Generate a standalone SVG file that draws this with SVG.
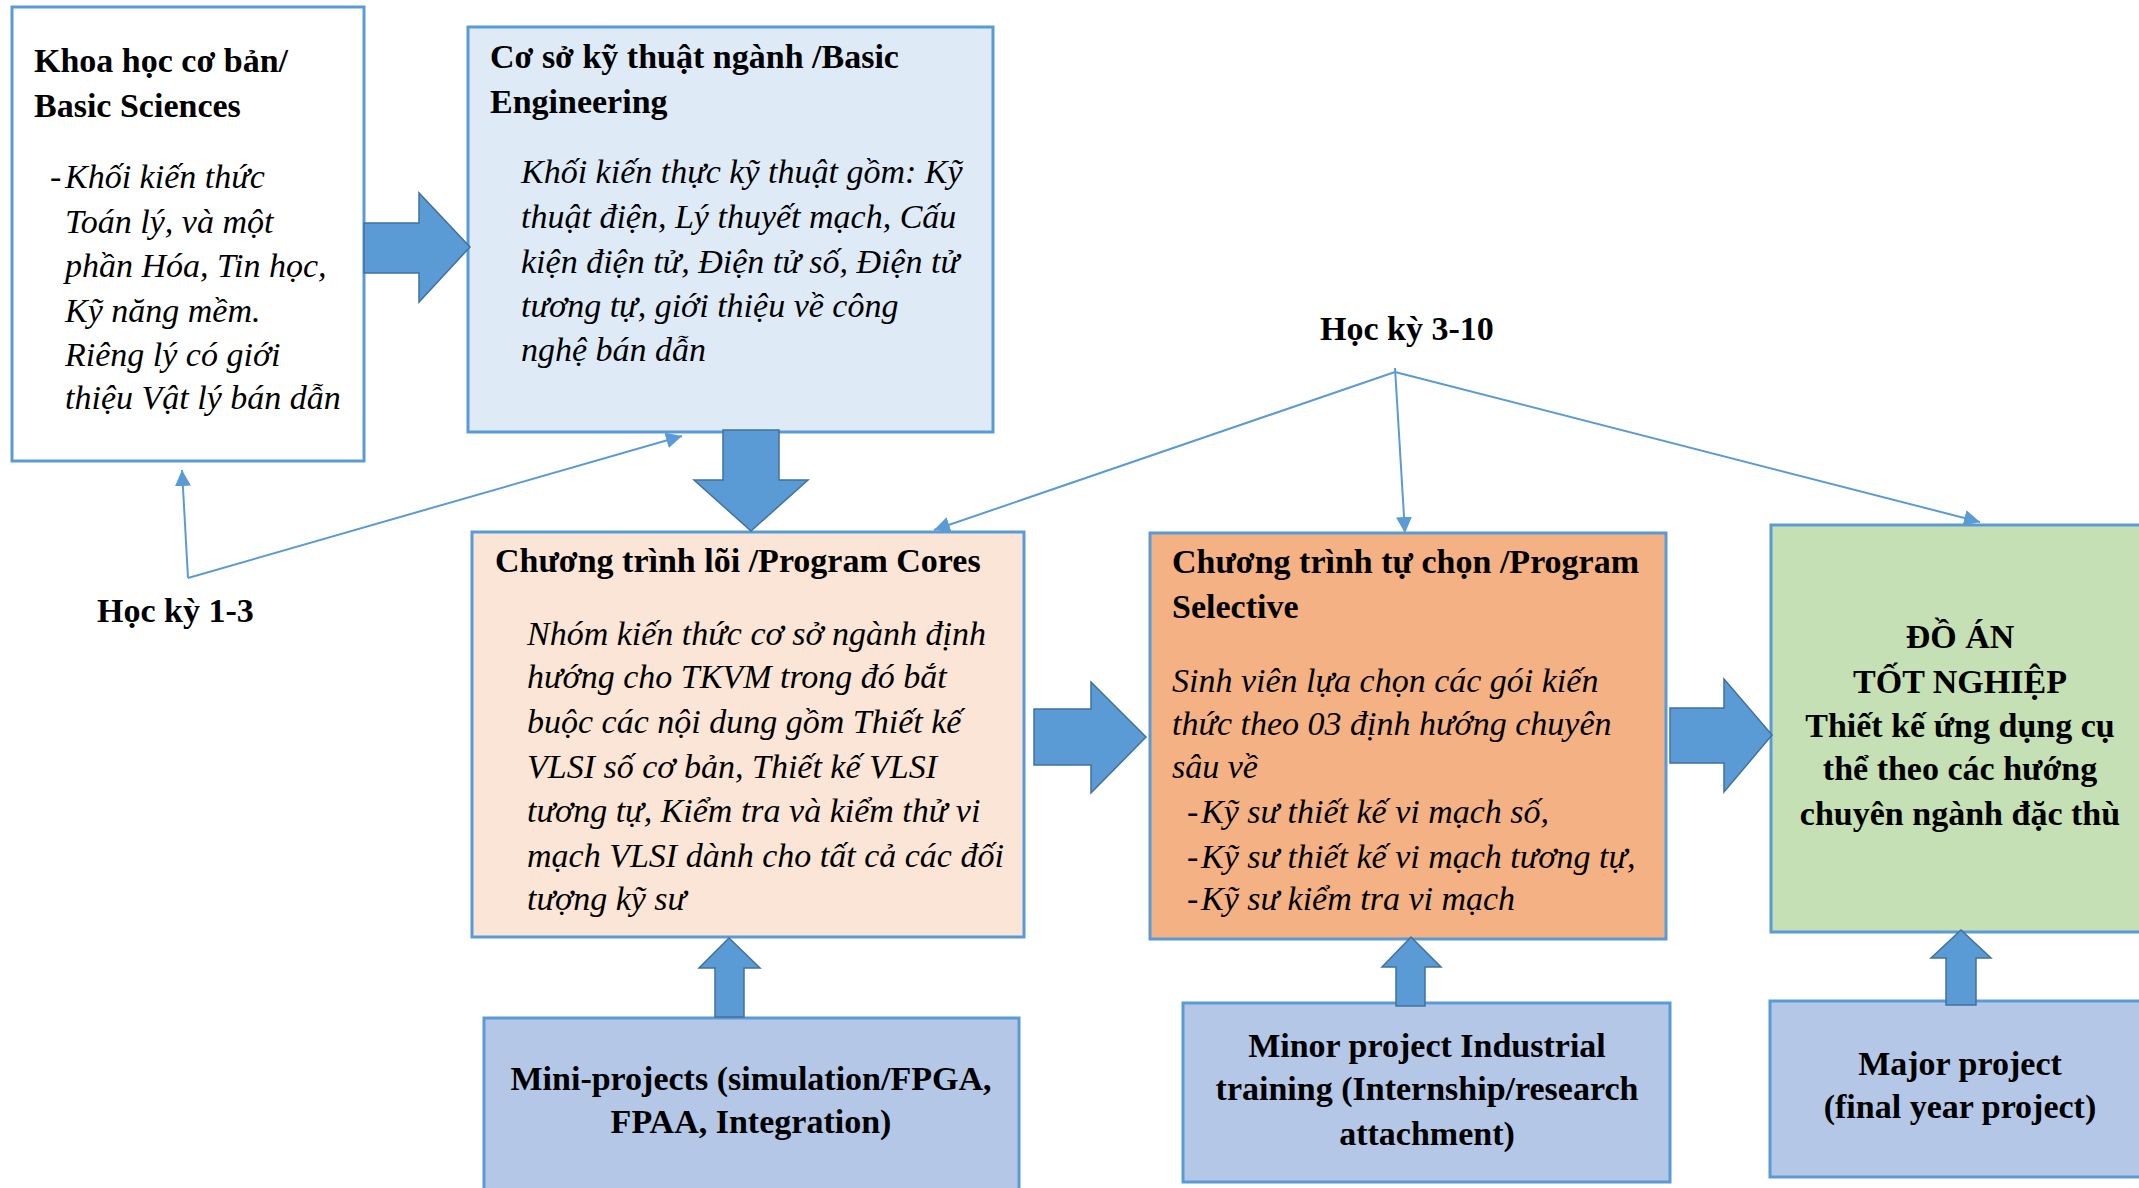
<svg xmlns="http://www.w3.org/2000/svg" width="2139" height="1188" viewBox="0 0 2139 1188">
  <style>
    .box { stroke: #5b9bd5; stroke-width: 3; }
    .b { font-family: "Liberation Serif", "Times New Roman", serif; font-weight: bold; font-size: 34px; fill: #000; }
    .i { font-family: "Liberation Serif", "Times New Roman", serif; font-style: italic; font-size: 34px; fill: #000; }
    .c { text-anchor: middle; }
    .blk { fill: #5b9bd5; stroke: #41719c; stroke-width: 1.5; stroke-linejoin: miter; }
    .thin { fill: none; stroke: #5b9bd5; stroke-width: 2; marker-end: url(#tri); }
  </style>
  <defs>
    <marker id="tri" markerUnits="userSpaceOnUse" markerWidth="18" markerHeight="18" refX="16" refY="8" orient="auto">
      <path d="M0,0 L16,8 L0,16 z" fill="#5b9bd5"/>
    </marker>
  </defs>
  <rect width="2139" height="1188" fill="#fff"/>

  <!-- semester markers and thin arrows -->
  <g id="connectors">
    <polyline class="thin" points="188,578 182,470"/>
    <polyline class="thin" points="188,578 682,436"/>
    <polyline class="thin" points="1395,372 934,530"/>
    <polyline class="thin" points="1395,368 1405,533"/>
    <polyline class="thin" points="1395,372 1980,522"/>
  </g>

  <g id="basic-sciences">
    <rect class="box" x="12" y="7" width="352" height="454" fill="#fff"/>
    <text class="b" x="34" y="72">Khoa học cơ bản/</text>
    <text class="b" x="34" y="117">Basic Sciences</text>
    <text class="i" x="50" y="188">-</text>
    <text class="i" x="65" y="188">Khối kiến thức</text>
    <text class="i" x="65" y="233">Toán lý, và một</text>
    <text class="i" x="65" y="277">phần Hóa, Tin học,</text>
    <text class="i" x="65" y="322">Kỹ năng mềm.</text>
    <text class="i" x="65" y="366">Riêng lý có giới</text>
    <text class="i" x="65" y="409">thiệu Vật lý bán dẫn</text>
  </g>

  <g id="basic-engineering">
    <rect class="box" x="468" y="27" width="525" height="405" fill="#deebf7"/>
    <text class="b" x="490" y="68">Cơ sở kỹ thuật ngành /Basic</text>
    <text class="b" x="490" y="113">Engineering</text>
    <text class="i" x="521" y="183">Khối kiến thực kỹ thuật gồm: Kỹ</text>
    <text class="i" x="521" y="228">thuật điện, Lý thuyết mạch, Cấu</text>
    <text class="i" x="521" y="273">kiện điện tử, Điện tử số, Điện tử</text>
    <text class="i" x="521" y="317">tương tự, giới thiệu về công</text>
    <text class="i" x="521" y="361">nghệ bán dẫn</text>
  </g>

  <g id="program-cores">
    <rect class="box" x="472" y="532" width="552" height="405" fill="#fbe5d6"/>
    <text class="b" x="495" y="572">Chương trình lõi /Program Cores</text>
    <text class="i" x="527" y="645">Nhóm kiến thức cơ sở ngành định</text>
    <text class="i" x="527" y="688">hướng cho TKVM trong đó bắt</text>
    <text class="i" x="527" y="733">buộc các nội dung gồm Thiết kế</text>
    <text class="i" x="527" y="778">VLSI số cơ bản, Thiết kế VLSI</text>
    <text class="i" x="527" y="822">tương tự, Kiểm tra và kiểm thử vi</text>
    <text class="i" x="527" y="867">mạch VLSI dành cho tất cả các đối</text>
    <text class="i" x="527" y="910">tượng kỹ sư</text>
  </g>

  <g id="program-selective">
    <rect class="box" x="1150" y="533" width="516" height="406" fill="#f4b183"/>
    <text class="b" x="1172" y="573">Chương trình tự chọn /Program</text>
    <text class="b" x="1172" y="618">Selective</text>
    <text class="i" x="1172" y="692">Sinh viên lựa chọn các gói kiến</text>
    <text class="i" x="1172" y="735">thức theo 03 định hướng chuyên</text>
    <text class="i" x="1172" y="778">sâu về</text>
    <text class="i" x="1187" y="823">-</text>
    <text class="i" x="1201" y="823">Kỹ sư thiết kế vi mạch số,</text>
    <text class="i" x="1187" y="868">-</text>
    <text class="i" x="1201" y="868">Kỹ sư thiết kế vi mạch tương tự,</text>
    <text class="i" x="1187" y="910">-</text>
    <text class="i" x="1201" y="910">Kỹ sư kiểm tra vi mạch</text>
  </g>

  <g id="graduation-project">
    <rect class="box" x="1771" y="525" width="380" height="407" fill="#c5e0b4"/>
    <text class="b c" x="1960" y="648">ĐỒ ÁN</text>
    <text class="b c" x="1960" y="693">TỐT NGHIỆP</text>
    <text class="b c" x="1960" y="737">Thiết kế ứng dụng cụ</text>
    <text class="b c" x="1960" y="780">thể theo các hướng</text>
    <text class="b c" x="1960" y="825">chuyên ngành đặc thù</text>
  </g>

  <g id="mini-projects">
    <rect class="box" x="484" y="1018" width="535" height="190" fill="#b4c7e7"/>
    <text class="b c" x="751" y="1090">Mini-projects (simulation/FPGA,</text>
    <text class="b c" x="751" y="1133">FPAA, Integration)</text>
  </g>

  <g id="minor-project">
    <rect class="box" x="1183" y="1003" width="487" height="179" fill="#b4c7e7"/>
    <text class="b c" x="1427" y="1057">Minor project Industrial</text>
    <text class="b c" x="1427" y="1100">training (Internship/research</text>
    <text class="b c" x="1427" y="1145">attachment)</text>
  </g>

  <g id="major-project">
    <rect class="box" x="1770" y="1001" width="380" height="176" fill="#b4c7e7"/>
    <text class="b c" x="1960" y="1075">Major project</text>
    <text class="b c" x="1960" y="1118">(final year project)</text>
  </g>

  <!-- block arrows -->
  <g id="block-arrows">
    <polygon class="blk" points="364,223 419,223 419,193 470,247 419,302 419,273 364,273"/>
    <polygon class="blk" points="723,430 779,430 779,480 808,480 751,531 694,480 723,480"/>
    <polygon class="blk" points="1034,709 1091,709 1091,682 1146,737 1091,793 1091,765 1034,765"/>
    <polygon class="blk" points="1670,708 1724,708 1724,679 1772,735 1724,792 1724,763 1670,763"/>
    <polygon class="blk" points="715,1017 715,968 699,968 729,938 760,968 744,968 744,1017"/>
    <polygon class="blk" points="1396,1006 1396,967 1382,967 1411,937 1441,967 1425,967 1425,1006"/>
    <polygon class="blk" points="1946,1005 1946,958 1931,958 1961,930 1991,958 1976,958 1976,1005"/>
  </g>

  <text class="b" x="97" y="622">Học kỳ 1-3</text>
  <text class="b" x="1320" y="340">Học kỳ 3-10</text>
</svg>
